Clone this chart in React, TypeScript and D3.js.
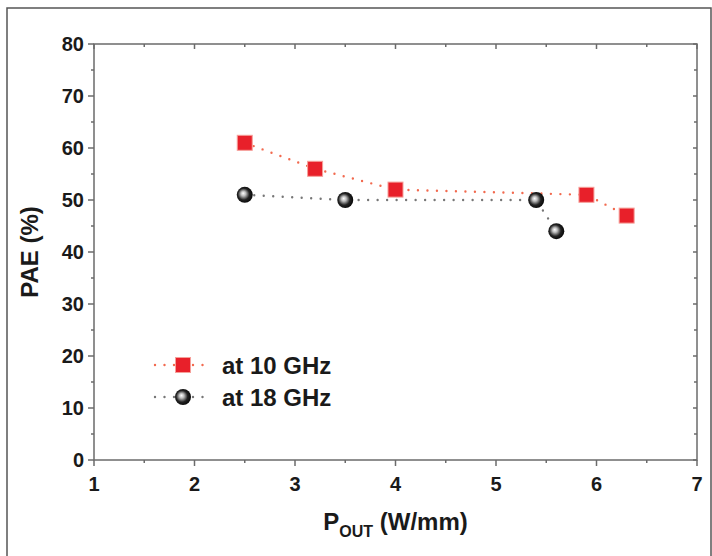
import React, { useEffect, useRef } from 'react'
import * as d3 from 'd3'

// series
const pout10 = [2.5, 3.2, 4.0, 5.9, 6.3]
const pae10 = [61, 56, 52, 51, 47]
const pout18 = [2.5, 3.5, 5.4, 5.6]
const pae18 = [51, 50, 50, 44]

const xTicks = [1, 2, 3, 4, 5, 6, 7]
const yTicks = [0, 10, 20, 30, 40, 50, 60, 70, 80]
const legendLabels = ['at 10 GHz', 'at 18 GHz']

const W = 712
const H = 556
const margin = { left: 94, top: 44, right: 15, bottom: 96 }
const font = "'Liberation Sans', Arial, sans-serif"

const App = () => {
    const svgRef = useRef(null)

    useEffect(() => {
        const svg = d3.select(svgRef.current)
        svg.selectAll('*').remove()

        const x = d3.scaleLinear().domain([1, 7]).range([margin.left, W - margin.right])
        const y = d3.scaleLinear().domain([0, 80]).range([H - margin.bottom, margin.top])

        const defs = svg.append('defs')
        const grad = defs.append('radialGradient')
            .attr('id', 'ball')
            .attr('cx', '0.45').attr('cy', '0.5').attr('r', '0.6')
            .attr('fx', '0.4').attr('fy', '0.4')
        grad.append('stop').attr('offset', '0%').attr('stop-color', '#ffffff')
        grad.append('stop').attr('offset', '25%').attr('stop-color', '#bdbdbd')
        grad.append('stop').attr('offset', '60%').attr('stop-color', '#222')
        grad.append('stop').attr('offset', '100%').attr('stop-color', '#000')

        // outer frame
        svg.append('rect')
            .attr('x', 7).attr('y', 8)
            .attr('width', 704).attr('height', 560)
            .attr('fill', 'none').attr('stroke', '#555').attr('stroke-width', 1.5)

        const axisColor = '#6b6b6b'
        const g = svg.append('g')

        // plot box
        g.append('rect')
            .attr('x', x(1)).attr('y', y(80))
            .attr('width', x(7) - x(1)).attr('height', y(0) - y(80))
            .attr('fill', 'none').attr('stroke', axisColor).attr('stroke-width', 1.5)

        const minorX = d3.range(1.5, 7, 1)
        const minorY = d3.range(5, 80, 10)

        // bottom / left ticks point out, top / right ticks small and inward
        xTicks.forEach(t => {
            g.append('line').attr('x1', x(t)).attr('x2', x(t))
                .attr('y1', y(0)).attr('y2', y(0) + 6).attr('stroke', axisColor).attr('stroke-width', 1.5)
            g.append('line').attr('x1', x(t)).attr('x2', x(t))
                .attr('y1', y(80)).attr('y2', y(80) + 5).attr('stroke', axisColor).attr('stroke-width', 1.5)
        })
        minorX.forEach(t => {
            g.append('line').attr('x1', x(t)).attr('x2', x(t))
                .attr('y1', y(0)).attr('y2', y(0) + 3).attr('stroke', axisColor).attr('stroke-width', 1.5)
            g.append('line').attr('x1', x(t)).attr('x2', x(t))
                .attr('y1', y(80)).attr('y2', y(80) + 3).attr('stroke', axisColor).attr('stroke-width', 1.5)
        })
        yTicks.forEach(t => {
            g.append('line').attr('x1', x(1) - 6).attr('x2', x(1))
                .attr('y1', y(t)).attr('y2', y(t)).attr('stroke', axisColor).attr('stroke-width', 1.5)
            g.append('line').attr('x1', x(7) - 4).attr('x2', x(7))
                .attr('y1', y(t)).attr('y2', y(t)).attr('stroke', axisColor).attr('stroke-width', 1.5)
        })
        minorY.forEach(t => {
            g.append('line').attr('x1', x(1) - 3).attr('x2', x(1))
                .attr('y1', y(t)).attr('y2', y(t)).attr('stroke', axisColor).attr('stroke-width', 1.5)
            g.append('line').attr('x1', x(7) - 3).attr('x2', x(7))
                .attr('y1', y(t)).attr('y2', y(t)).attr('stroke', axisColor).attr('stroke-width', 1.5)
        })

        // tick labels
        g.selectAll('.xl').data(xTicks).enter().append('text')
            .attr('x', d => x(d)).attr('y', y(0) + 31)
            .attr('text-anchor', 'middle')
            .attr('font-family', font).attr('font-size', 20).attr('font-weight', 'bold')
            .attr('fill', '#1a1a1a')
            .text(d => d)
        g.selectAll('.yl').data(yTicks).enter().append('text')
            .attr('x', x(1) - 10).attr('y', d => y(d) + 7)
            .attr('text-anchor', 'end')
            .attr('font-family', font).attr('font-size', 20).attr('font-weight', 'bold')
            .attr('fill', '#1a1a1a')
            .text(d => d)

        // axis titles
        g.append('text')
            .attr('transform', `translate(38,${(y(0) + y(80)) / 2}) rotate(-90)`)
            .attr('text-anchor', 'middle')
            .attr('font-family', font).attr('font-size', 24).attr('font-weight', 'bold')
            .attr('fill', '#1a1a1a')
            .text('PAE (%)')
        const xt = g.append('text')
            .attr('x', (x(1) + x(7)) / 2).attr('y', 530)
            .attr('text-anchor', 'middle')
            .attr('font-family', font).attr('font-size', 24).attr('font-weight', 'bold')
            .attr('fill', '#1a1a1a')
        xt.append('tspan').text('P')
        xt.append('tspan').attr('font-size', 16).attr('dy', 7).text('OUT')
        xt.append('tspan').attr('dy', -7).text(' (W/mm)')

        const line = d3.line().x(d => x(d[0])).y(d => y(d[1]))
        const s10 = pout10.map((v, i) => [v, pae10[i]])
        const s18 = pout18.map((v, i) => [v, pae18[i]])

        const dotted = (sel, color) => sel
            .attr('fill', 'none').attr('stroke', color).attr('stroke-width', 2.4)
            .attr('stroke-linecap', 'round').attr('stroke-dasharray', '0 9.5')

        dotted(g.append('path').attr('d', line(s18)), '#777')
        dotted(g.append('path').attr('d', line(s10)), '#f26a4f')

        const square = (px, py) => g.append('rect')
            .attr('x', px - 7.5).attr('y', py - 7.5)
            .attr('width', 15).attr('height', 15)
            .attr('fill', '#e8202a').attr('stroke', '#f6a09a').attr('stroke-width', 1)
        const ball = (px, py) => g.append('circle')
            .attr('cx', px).attr('cy', py).attr('r', 8)
            .attr('fill', 'url(#ball)')

        s18.forEach(d => ball(x(d[0]), y(d[1])))
        s10.forEach(d => square(x(d[0]), y(d[1])))

        // legend
        const lx = 155
        const legendY = [365, 397]
        dotted(g.append('line').attr('x1', lx).attr('x2', lx + 56)
            .attr('y1', legendY[0]).attr('y2', legendY[0]), '#f26a4f')
        dotted(g.append('line').attr('x1', lx).attr('x2', lx + 56)
            .attr('y1', legendY[1]).attr('y2', legendY[1]), '#777')
        square(lx + 28, legendY[0])
        ball(lx + 28, legendY[1])
        legendLabels.forEach((label, i) => {
            g.append('text')
                .attr('x', 222).attr('y', legendY[i] + 9)
                .attr('font-family', font).attr('font-size', 24).attr('font-weight', 'bold')
                .attr('fill', '#1a1a1a')
                .text(label)
        })
    }, [])

    return (
        <div>
            <svg ref={svgRef} width={W} height={H} style={{ display: 'block', position: 'absolute', left: 0, top: 0 }}></svg>
        </div>
    )
}

export default App
